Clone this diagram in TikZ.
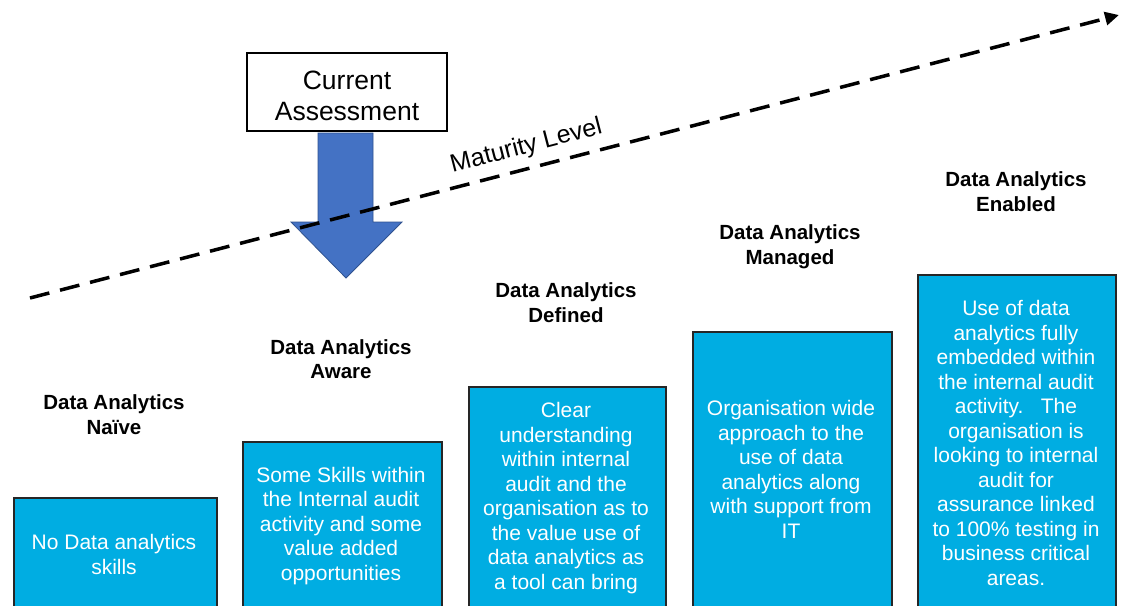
\documentclass[tikz,border=0pt]{standalone}
\usepackage{fontspec}
\setmainfont{Liberation Sans}
\usetikzlibrary{arrows.meta,calc}
\definecolor{boxcyan}{RGB}{0,173,226}
\definecolor{arrowblue}{RGB}{68,114,196}
\definecolor{arrowedge}{RGB}{47,82,143}
\begin{document}
\begin{tikzpicture}[x=1pt,y=-1pt,
  levelbox/.style={draw=black!85, line width=1.5pt, fill=boxcyan, anchor=north west, inner sep=0pt},
  boxtext/.style={text=white, align=center, font=\fontsize{21}{24.5}\selectfont, inner sep=0pt},
  heading/.style={align=center, font=\bfseries\fontsize{20.5}{24.5}\selectfont, inner sep=0pt},
]
\clip (0,0) rectangle (1121,605);
\fill[white] (0,0) rectangle (1121,605);

% level boxes
\node[levelbox, minimum width=203pt, minimum height=130pt] (b1) at (13,497) {};
\node[levelbox, minimum width=199pt, minimum height=190pt] (b2) at (242,441) {};
\node[levelbox, minimum width=197pt, minimum height=240pt] (b3) at (468,386) {};
\node[levelbox, minimum width=199pt, minimum height=300pt] (b4) at (692,331) {};
\node[levelbox, minimum width=198pt, minimum height=350pt] (b5) at (917,274) {};

% box texts
\node[boxtext] (t1) at (114,554.5) {No Data analytics\\skills};
\node[boxtext] (t2) at (341,526) {Some Skills within\\the Internal audit\\activity and some\\value added\\opportunities};
\node[boxtext] (t3) at (566,498) {Clear\\understanding\\within internal\\audit and the\\organisation as to\\the value use of\\data analytics as\\a tool can bring};
\node[boxtext] (t4) at (791,469.5) {Organisation wide\\approach to the\\use of data\\analytics along\\with support from\\IT};
\node[boxtext] (t5) at (1016,443) {Use of data\\analytics fully\\embedded within\\the internal audit\\activity.\ \ \ The\\organisation is\\looking to internal\\audit for\\assurance linked\\to 100\% testing in\\business critical\\areas.};

% headings
\node[heading] (h1) at (114,414.5) {Data Analytics\\Naïve};
\node[heading] (h2) at (341,359) {Data Analytics\\Aware};
\node[heading] (h3) at (566,302.5) {Data Analytics\\Defined};
\node[heading] (h4) at (790,246.5) {Data Analytics\\Managed};
\node[heading] (h5) at (1016,191.5) {Data Analytics\\Enabled};

% current assessment
\node[draw=black, line width=1.5pt, fill=white, minimum width=200pt, minimum height=78pt, inner sep=0pt,
      align=center, font=\fontsize{26.5}{31}\selectfont] (ca) at (347,92) {};
\node[align=center, inner sep=0pt, font=\fontsize{26.5}{31}\selectfont] (catext) at (347,96) {Current\\Assessment};
\draw[fill=arrowblue, draw=arrowedge, line width=0.8pt]
  (318,133) -- (373,133) -- (373,222) -- (402,222) -- (346,278) -- (291,222) -- (318,222) -- cycle;

% maturity line
\coordinate (ls) at (30,298);
\coordinate (le) at (1119,15);
\draw[line width=3.5pt, dash pattern=on 20pt off 11pt, -{Triangle[length=14pt,width=13pt]}] (ls) -- (le);
\node[anchor=base, inner sep=0pt, rotate=14.58, font=\fontsize{25}{29}\selectfont] (ml) at (528,153) {Maturity Level};
\end{tikzpicture}
\end{document}
